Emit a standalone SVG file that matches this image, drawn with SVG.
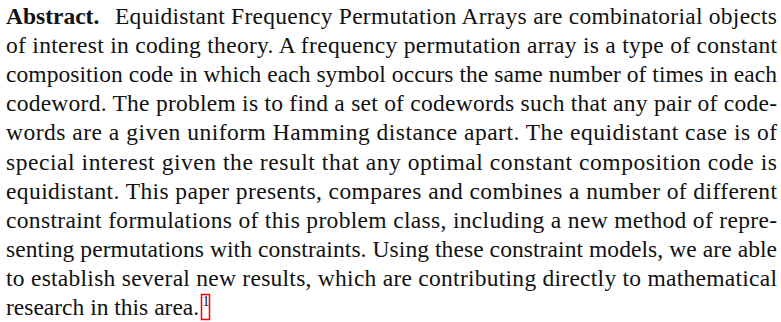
<svg xmlns="http://www.w3.org/2000/svg" width="781" height="322" viewBox="0 0 781 322">
<style>
text{font-family:"Liberation Serif","Times New Roman",serif;font-size:23.5px;fill:#111;}
.b{font-weight:bold;}
.j{}
.fn{font-size:14px;}
</style>
<rect width="781" height="322" fill="#fff"/>
<g id="abstract">
<text x="6" y="24" class="b">Abstract.</text>
<text x="115" y="24" textLength="662" lengthAdjust="spacing">Equidistant Frequency Permutation Arrays are combinatorial objects</text>
<text x="6" y="53.1" textLength="771" lengthAdjust="spacing">of interest in coding theory. A frequency permutation array is a type of constant</text>
<text x="6" y="82.2" textLength="771" lengthAdjust="spacing">composition code in which each symbol occurs the same number of times in each</text>
<text x="6" y="111.3" textLength="771" lengthAdjust="spacing">codeword. The problem is to find a set of codewords such that any pair of code-</text>
<text x="6" y="140.4" textLength="771" lengthAdjust="spacing">words are a given uniform Hamming distance apart. The equidistant case is of</text>
<text x="6" y="169.5" textLength="771" lengthAdjust="spacing">special interest given the result that any optimal constant composition code is</text>
<text x="6" y="198.6" textLength="771" lengthAdjust="spacing">equidistant. This paper presents, compares and combines a number of different</text>
<text x="6" y="227.7" textLength="771" lengthAdjust="spacing">constraint formulations of this problem class, including a new method of repre-</text>
<text x="6" y="256.8" textLength="771" lengthAdjust="spacing">senting permutations with constraints. Using these constraint models, we are able</text>
<text x="6" y="285.9" textLength="771" lengthAdjust="spacing">to establish several new results, which are contributing directly to mathematical</text>
<text x="6" y="315">research in this area.</text>
</g>
<g id="footnote">
<rect x="201.5" y="294.5" width="8" height="25" fill="none" stroke="#ff0000" stroke-width="1.5"/>
<text x="202.5" y="306" class="fn">1</text>
</g>
</svg>
